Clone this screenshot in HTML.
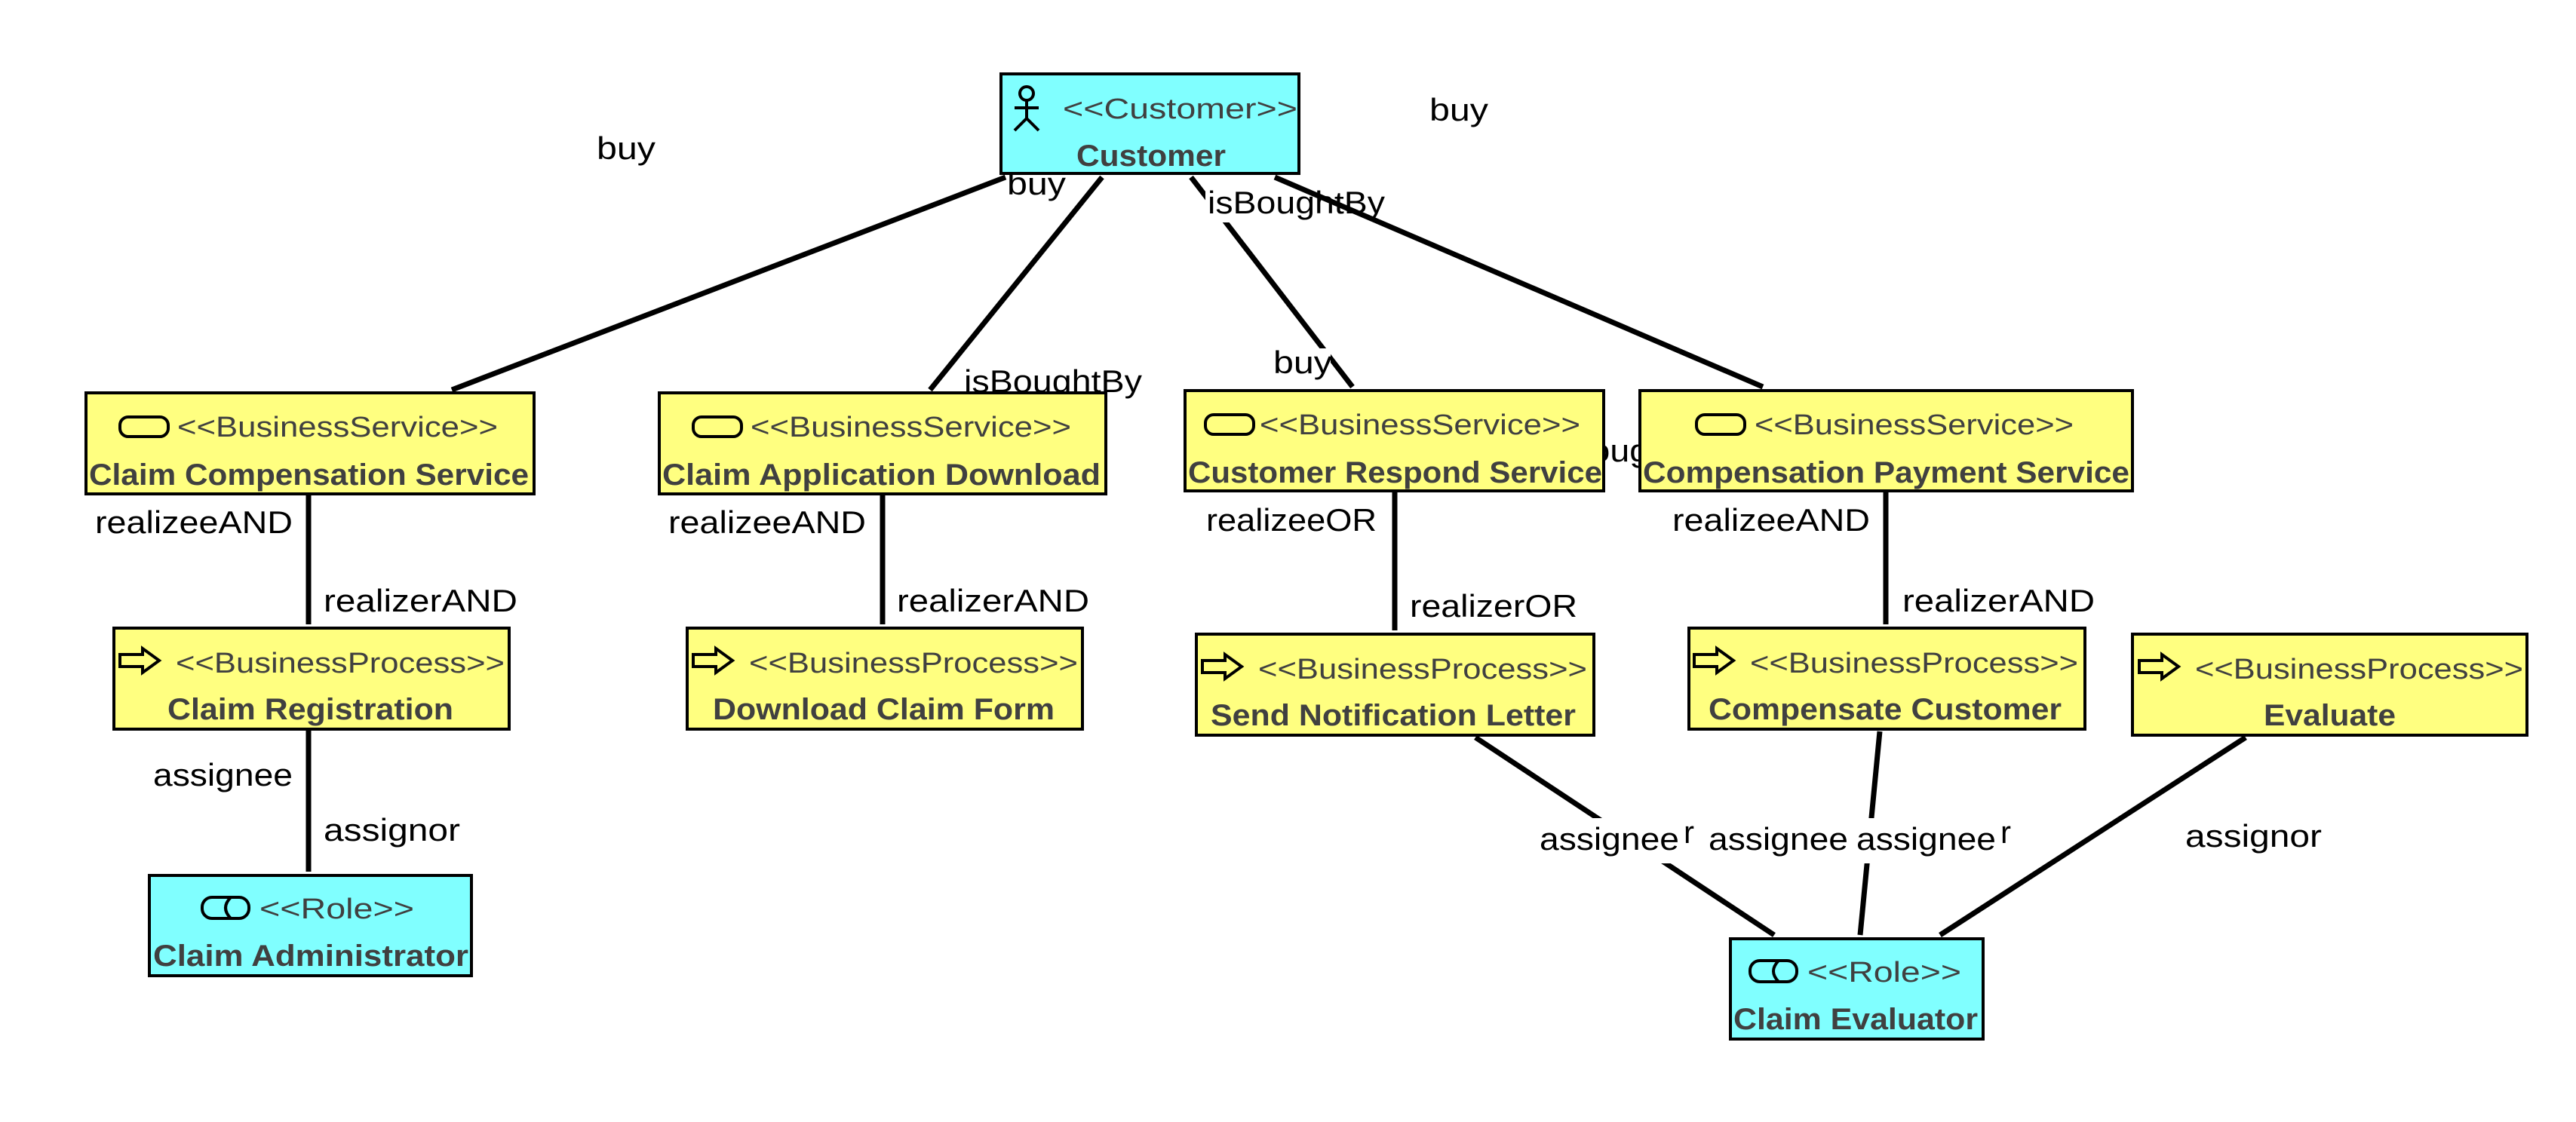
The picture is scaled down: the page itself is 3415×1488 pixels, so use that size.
<!DOCTYPE html>
<html><head><meta charset="utf-8"><style>
html,body{margin:0;padding:0;background:#fff;}
svg{display:block;}
.lb{font-family:"Liberation Sans",sans-serif;font-size:42px;fill:#000;}
.st{font-family:"Liberation Sans",sans-serif;font-size:38px;fill:#404040;}
.nm{font-family:"Liberation Sans",sans-serif;font-size:40px;font-weight:bold;fill:#404040;}
.y{fill:#ffff80;stroke:#000;stroke-width:4;}
.c{fill:#80ffff;stroke:#000;stroke-width:4;}
.ln{stroke:#000;stroke-width:7;}
.ic{fill:none;stroke:#000;stroke-width:4;}
</style></head><body>
<svg width="3415" height="1488" viewBox="0 0 3415 1488" xmlns="http://www.w3.org/2000/svg">
<rect width="3415" height="1488" fill="#fff"/>
<!-- connectors -->
<line class="ln" x1="1333" y1="235" x2="599" y2="517"/>
<line class="ln" x1="1461" y1="235" x2="1233" y2="517"/>
<line class="ln" x1="1579" y1="235" x2="1793" y2="513"/>
<line class="ln" x1="409" y1="655" x2="409" y2="828"/>
<line class="ln" x1="409" y1="967" x2="409" y2="1156"/>
<line class="ln" x1="1170" y1="655" x2="1170" y2="828"/>
<line class="ln" x1="1849" y1="651" x2="1849" y2="836"/>
<line class="ln" x1="2500" y1="651" x2="2500" y2="828"/>
<line class="ln" x1="1956" y1="978" x2="2352" y2="1240"/>
<line class="ln" x1="2492" y1="970" x2="2466" y2="1240"/>
<line class="ln" x1="2977" y1="978" x2="2572" y2="1240"/>
<!-- label backgrounds -->
<rect x="1598" y="250" width="240" height="45" fill="#fff"/>
<rect x="1686" y="462" width="78" height="44" fill="#fff"/>
<rect x="2036" y="1085" width="620" height="60" fill="#fff"/>
<line class="ln" x1="1690" y1="235" x2="2337" y2="513"/>
<!-- labels -->
<text class="lb" x="791" y="211" textLength="78" lengthAdjust="spacingAndGlyphs">buy</text>
<text class="lb" x="1895" y="160" textLength="78" lengthAdjust="spacingAndGlyphs">buy</text>
<text class="lb" x="1335" y="258" textLength="78" lengthAdjust="spacingAndGlyphs">buy</text>
<text class="lb" x="1601" y="283" textLength="235" lengthAdjust="spacingAndGlyphs">isBoughtBy</text>
<text class="lb" x="1278" y="520" textLength="236" lengthAdjust="spacingAndGlyphs">isBoughtBy</text>
<text class="lb" x="1688" y="495" textLength="78" lengthAdjust="spacingAndGlyphs">buy</text>
<text class="lb" x="2044" y="612" textLength="235" lengthAdjust="spacingAndGlyphs">isBoughtBy</text>
<text class="lb" x="126" y="707" textLength="262" lengthAdjust="spacingAndGlyphs">realizeeAND</text>
<text class="lb" x="429" y="811" textLength="257" lengthAdjust="spacingAndGlyphs">realizerAND</text>
<text class="lb" x="886" y="707" textLength="262" lengthAdjust="spacingAndGlyphs">realizeeAND</text>
<text class="lb" x="1189" y="811" textLength="255" lengthAdjust="spacingAndGlyphs">realizerAND</text>
<text class="lb" x="1599" y="704" textLength="226" lengthAdjust="spacingAndGlyphs">realizeeOR</text>
<text class="lb" x="1869" y="818" textLength="222" lengthAdjust="spacingAndGlyphs">realizerOR</text>
<text class="lb" x="2217" y="704" textLength="262" lengthAdjust="spacingAndGlyphs">realizeeAND</text>
<text class="lb" x="2522" y="811" textLength="255" lengthAdjust="spacingAndGlyphs">realizerAND</text>
<text class="lb" x="203" y="1042" textLength="185" lengthAdjust="spacingAndGlyphs">assignee</text>
<text class="lb" x="429" y="1115" textLength="181" lengthAdjust="spacingAndGlyphs">assignor</text>
<text class="lb" x="2232" y="1118">r</text>
<text class="lb" x="2041" y="1127" textLength="185" lengthAdjust="spacingAndGlyphs">assignee</text>
<text class="lb" x="2265" y="1127" textLength="185" lengthAdjust="spacingAndGlyphs">assignee</text>
<text class="lb" x="2652" y="1118">r</text>
<text class="lb" x="2461" y="1127" textLength="185" lengthAdjust="spacingAndGlyphs">assignee</text>
<text class="lb" x="2897" y="1123" textLength="181" lengthAdjust="spacingAndGlyphs">assignor</text>

<!-- Customer -->
<rect class="c" x="1327" y="98" width="395" height="132"/>
<g class="ic"><circle cx="1361" cy="124" r="9"/><line x1="1361" y1="133" x2="1361" y2="157"/><line x1="1345" y1="143" x2="1377" y2="143"/><line x1="1361" y1="157" x2="1345" y2="173"/><line x1="1361" y1="157" x2="1377" y2="173"/></g>
<text class="st" x="1409" y="157" textLength="311" lengthAdjust="spacingAndGlyphs">&lt;&lt;Customer&gt;&gt;</text>
<text class="nm" x="1427" y="220" textLength="198" lengthAdjust="spacingAndGlyphs">Customer</text>

<!-- Business services -->
<rect class="y" x="114" y="521" width="594" height="134"/>
<rect class="ic" x="159" y="553" width="64" height="26" rx="11"/>
<text class="st" x="235" y="579" textLength="425" lengthAdjust="spacingAndGlyphs">&lt;&lt;BusinessService&gt;&gt;</text>
<text class="nm" x="118" y="643" textLength="583" lengthAdjust="spacingAndGlyphs">Claim Compensation Service</text>

<rect class="y" x="874" y="521" width="592" height="134"/>
<rect class="ic" x="919" y="553" width="64" height="26" rx="11"/>
<text class="st" x="995" y="579" textLength="425" lengthAdjust="spacingAndGlyphs">&lt;&lt;BusinessService&gt;&gt;</text>
<text class="nm" x="878" y="643" textLength="581" lengthAdjust="spacingAndGlyphs">Claim Application Download</text>

<rect class="y" x="1571" y="518" width="555" height="133"/>
<rect class="ic" x="1598" y="550" width="64" height="26" rx="11"/>
<text class="st" x="1670" y="576" textLength="425" lengthAdjust="spacingAndGlyphs">&lt;&lt;BusinessService&gt;&gt;</text>
<text class="nm" x="1575" y="640" textLength="549" lengthAdjust="spacingAndGlyphs">Customer Respond Service</text>

<rect class="y" x="2174" y="518" width="653" height="133"/>
<rect class="ic" x="2249" y="550" width="64" height="26" rx="11"/>
<text class="st" x="2326" y="576" textLength="423" lengthAdjust="spacingAndGlyphs">&lt;&lt;BusinessService&gt;&gt;</text>
<text class="nm" x="2178" y="640" textLength="645" lengthAdjust="spacingAndGlyphs">Compensation Payment Service</text>

<!-- Business processes -->
<defs><path id="arr" d="M0,8 H30 V0 L52,16 L30,32 V24 H0 Z" fill="none" stroke="#000" stroke-width="4"/></defs>
<rect class="y" x="151" y="833" width="524" height="134"/>
<use href="#arr" x="159" y="860"/>
<text class="st" x="233" y="892" textLength="436" lengthAdjust="spacingAndGlyphs">&lt;&lt;BusinessProcess&gt;&gt;</text>
<text class="nm" x="222" y="954" textLength="379" lengthAdjust="spacingAndGlyphs">Claim Registration</text>

<rect class="y" x="911" y="833" width="524" height="134"/>
<use href="#arr" x="919" y="860"/>
<text class="st" x="993" y="892" textLength="436" lengthAdjust="spacingAndGlyphs">&lt;&lt;BusinessProcess&gt;&gt;</text>
<text class="nm" x="945" y="954" textLength="453" lengthAdjust="spacingAndGlyphs">Download Claim Form</text>

<rect class="y" x="1586" y="841" width="527" height="134"/>
<use href="#arr" x="1594" y="868"/>
<text class="st" x="1668" y="900" textLength="436" lengthAdjust="spacingAndGlyphs">&lt;&lt;BusinessProcess&gt;&gt;</text>
<text class="nm" x="1605" y="962" textLength="484" lengthAdjust="spacingAndGlyphs">Send Notification Letter</text>

<rect class="y" x="2239" y="833" width="525" height="134"/>
<use href="#arr" x="2246" y="860"/>
<text class="st" x="2320" y="892" textLength="435" lengthAdjust="spacingAndGlyphs">&lt;&lt;BusinessProcess&gt;&gt;</text>
<text class="nm" x="2265" y="954" textLength="468" lengthAdjust="spacingAndGlyphs">Compensate Customer</text>

<rect class="y" x="2827" y="841" width="523" height="134"/>
<use href="#arr" x="2836" y="868"/>
<text class="st" x="2910" y="900" textLength="435" lengthAdjust="spacingAndGlyphs">&lt;&lt;BusinessProcess&gt;&gt;</text>
<text class="nm" x="3001" y="962" textLength="175" lengthAdjust="spacingAndGlyphs">Evaluate</text>

<!-- Roles -->
<rect class="c" x="198" y="1161" width="427" height="133"/>
<g class="ic"><rect x="268" y="1190" width="62" height="28" rx="13"/><path d="M306,1190 Q292,1204 306,1218"/></g>
<text class="st" x="344" y="1218" textLength="205" lengthAdjust="spacingAndGlyphs">&lt;&lt;Role&gt;&gt;</text>
<text class="nm" x="203" y="1281" textLength="418" lengthAdjust="spacingAndGlyphs">Claim Administrator</text>

<rect class="c" x="2294" y="1245" width="335" height="133"/>
<g class="ic"><rect x="2320" y="1274" width="62" height="28" rx="13"/><path d="M2358,1274 Q2344,1288 2358,1302"/></g>
<text class="st" x="2396" y="1302" textLength="204" lengthAdjust="spacingAndGlyphs">&lt;&lt;Role&gt;&gt;</text>
<text class="nm" x="2298" y="1365" textLength="324" lengthAdjust="spacingAndGlyphs">Claim Evaluator</text>
</svg>
</body></html>
